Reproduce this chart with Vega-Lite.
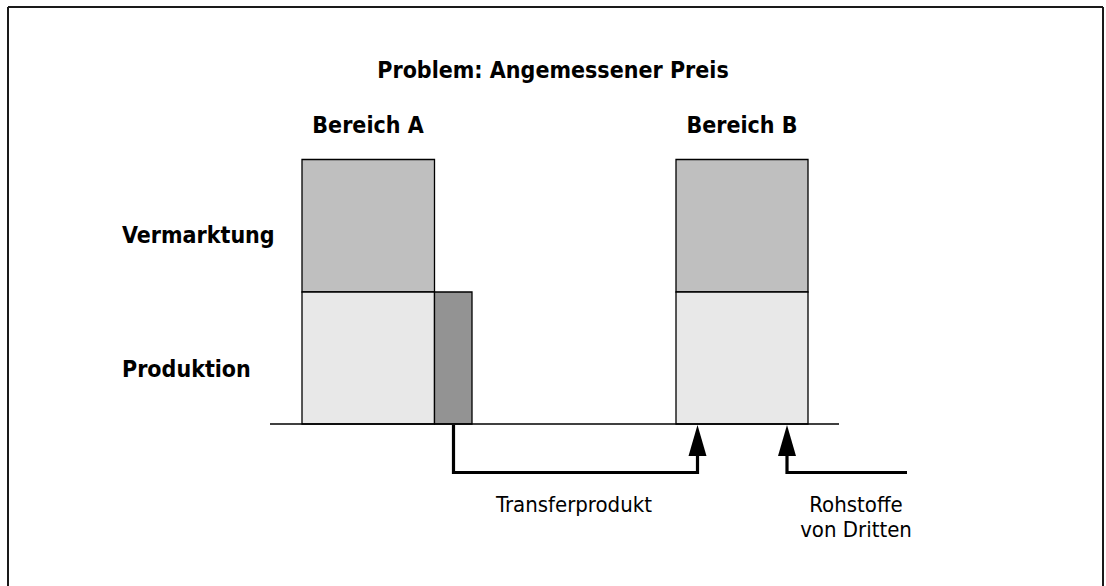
{
  "$schema": "https://vega.github.io/schema/vega-lite/v6.json",
  "width": 1106,
  "height": 586,
  "padding": 0,
  "autosize": {"type": "fit", "contains": "padding"},
  "background": "white",
  "config": {"view": {"stroke": null}},
  "datasets": {
    "boxes": [
      {"part": "Vermarktung A", "x": 302, "x2": 434.5, "y": 159.5, "y2": 292},
      {"part": "Produktion A", "x": 302, "x2": 434.5, "y": 292, "y2": 424},
      {"part": "Transferprodukt", "x": 434.5, "x2": 472, "y": 292, "y2": 424},
      {"part": "Vermarktung B", "x": 676, "x2": 808, "y": 159.5, "y2": 292},
      {"part": "Produktion B", "x": 676, "x2": 808, "y": 292, "y2": 424}
    ],
    "baseline": [{"x": 270, "x2": 839, "y": 424, "y2": 424}],
    "frame": [
      {"x": 8, "x2": 1103, "y": 7, "y2": 7},
      {"x": 8, "x2": 8, "y": 7, "y2": 590},
      {"x": 1103, "x2": 1103, "y": 7, "y2": 590}
    ],
    "paths": [
      {"path": "Transfer", "seq": 1, "x": 453.5, "y": 425},
      {"path": "Transfer", "seq": 2, "x": 453.5, "y": 472.5},
      {"path": "Transfer", "seq": 3, "x": 697.5, "y": 472.5},
      {"path": "Transfer", "seq": 4, "x": 697.5, "y": 450},
      {"path": "Rohstoffe", "seq": 1, "x": 907, "y": 472.5},
      {"path": "Rohstoffe", "seq": 2, "x": 787, "y": 472.5},
      {"path": "Rohstoffe", "seq": 3, "x": 787, "y": 450}
    ],
    "heads": [
      {"path": "Transfer", "x": 697.5, "y": 440.5},
      {"path": "Rohstoffe", "x": 787, "y": 440.5}
    ],
    "boldCenter": [
      {"label": "Problem: Angemessener Preis", "x": 553, "y": 78},
      {"label": "Bereich A", "x": 368, "y": 133},
      {"label": "Bereich B", "x": 742, "y": 133}
    ],
    "boldLeft": [
      {"label": "Vermarktung", "x": 122, "y": 243},
      {"label": "Produktion", "x": 122, "y": 377}
    ],
    "regular": [
      {"label": "Transferprodukt", "x": 574, "y": 512},
      {"label": "Rohstoffe", "x": 856, "y": 512},
      {"label": "von Dritten", "x": 856, "y": 537}
    ]
  },
  "encoding": {
    "x": {"field": "x", "type": "quantitative", "axis": null, "scale": {"domain": [0, 1106], "nice": false, "zero": false}},
    "y": {"field": "y", "type": "quantitative", "axis": null, "scale": {"domain": [0, 586], "nice": false, "zero": false, "reverse": true}}
  },
  "layer": [
    {
      "data": {"name": "frame"},
      "mark": {"type": "rule", "stroke": "#1a1a1a", "strokeWidth": 2, "clip": true},
      "encoding": {"x2": {"field": "x2"}, "y2": {"field": "y2"}}
    },
    {
      "data": {"name": "boxes"},
      "mark": {"type": "rect", "stroke": "#000000", "strokeWidth": 1.3},
      "encoding": {
        "x2": {"field": "x2"},
        "y2": {"field": "y2"},
        "fill": {
          "field": "part", "type": "nominal", "legend": null,
          "scale": {
            "domain": ["Vermarktung A", "Produktion A", "Transferprodukt", "Vermarktung B", "Produktion B"],
            "range": ["#bfbfbf", "#e8e8e8", "#939393", "#bfbfbf", "#e8e8e8"]
          }
        }
      }
    },
    {
      "data": {"name": "baseline"},
      "mark": {"type": "rule", "stroke": "#000000", "strokeWidth": 1.3},
      "encoding": {"x2": {"field": "x2"}, "y2": {"field": "y2"}}
    },
    {
      "data": {"name": "paths"},
      "mark": {"type": "line", "stroke": "#000000", "strokeWidth": 3.2, "strokeJoin": "miter", "strokeCap": "butt"},
      "encoding": {
        "detail": {"field": "path", "type": "nominal"},
        "order": {"field": "seq", "type": "quantitative"}
      }
    },
    {
      "data": {"name": "heads"},
      "mark": {"type": "point", "shape": "M0,-1L0.58,1L-0.58,1Z", "size": 961, "filled": true, "fill": "#000000", "opacity": 1, "strokeWidth": 0}
    },
    {
      "data": {"name": "boldCenter"},
      "mark": {"type": "text", "align": "center", "baseline": "alphabetic", "font": "DejaVu Sans Condensed, sans-serif", "fontWeight": "bold", "fontSize": 23, "fill": "#000000"},
      "encoding": {"text": {"field": "label"}}
    },
    {
      "data": {"name": "boldLeft"},
      "mark": {"type": "text", "align": "left", "baseline": "alphabetic", "font": "DejaVu Sans Condensed, sans-serif", "fontWeight": "bold", "fontSize": 23, "fill": "#000000"},
      "encoding": {"text": {"field": "label"}}
    },
    {
      "data": {"name": "regular"},
      "mark": {"type": "text", "align": "center", "baseline": "alphabetic", "font": "DejaVu Sans Condensed, sans-serif", "fontWeight": "normal", "fontSize": 22, "fill": "#000000"},
      "encoding": {"text": {"field": "label"}}
    }
  ]
}
